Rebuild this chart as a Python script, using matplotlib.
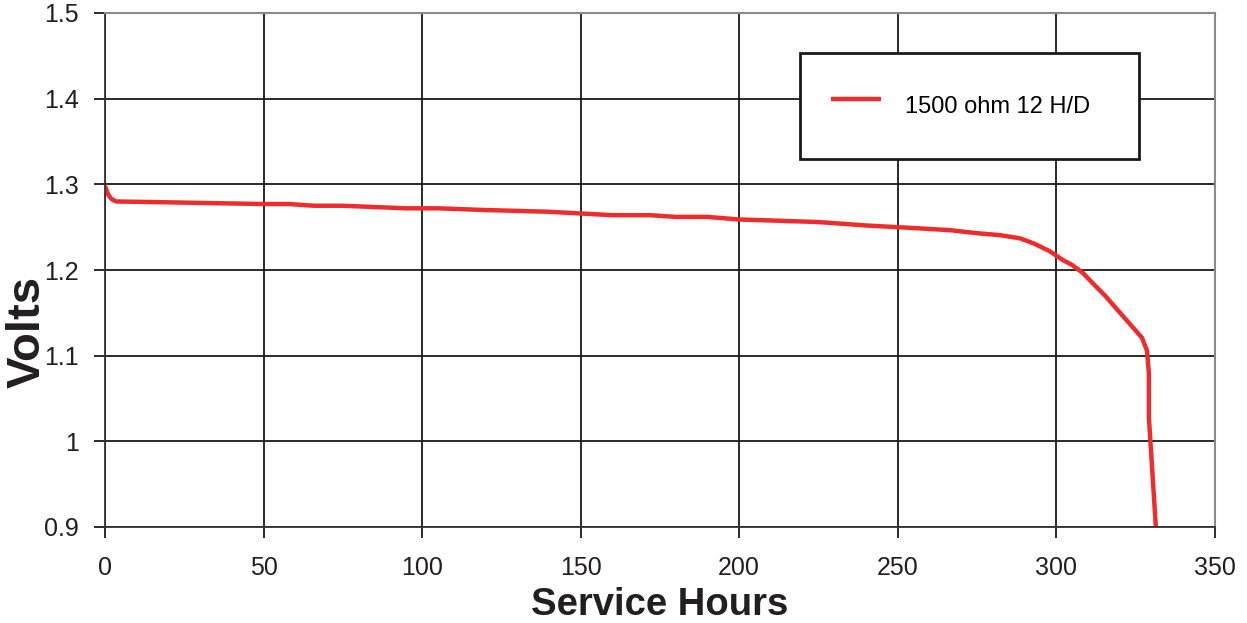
import numpy as np
import matplotlib.pyplot as plt

plt.rcParams['font.family'] = ['Liberation Sans', 'DejaVu Sans']

# Discharge curve
hours = [0, 1, 2, 3.5, 20, 50, 58, 66, 75, 95, 105, 120, 140, 160, 172, 180, 190, 200, 225, 240, 255, 266.6,
         275, 282.3, 288.6, 293, 298, 302, 305, 308.5, 312, 315.5, 319.5, 323.3, 327.1, 328.7, 329.3, 329.3, 331.5]
volts = [1.298, 1.288, 1.283, 1.280, 1.279, 1.277, 1.277, 1.275, 1.275, 1.272, 1.272, 1.270, 1.268, 1.264, 1.264,
         1.262, 1.262, 1.259, 1.256, 1.252, 1.249, 1.2465, 1.243, 1.2407, 1.237, 1.231, 1.222, 1.212, 1.206,
         1.1965, 1.183, 1.170, 1.153, 1.137, 1.121, 1.106, 1.080, 1.028, 0.9]

xticks = [0, 50, 100, 150, 200, 250, 300, 350]
yticks = [0.9, 1.0, 1.1, 1.2, 1.3, 1.4, 1.5]
ytick_labels = ['0.9', '1', '1.1', '1.2', '1.3', '1.4', '1.5']

W, H = 1247, 623
x0, x1, y0, y1 = 105, 1214.5, 13, 527
fig = plt.figure(figsize=(W/100, H/100), dpi=100)
ax = fig.add_axes([x0/W, 1-y1/H, (x1-x0)/W, (y1-y0)/H])

ax.plot(hours, volts, color='#ee2c2c', linewidth=3.2, label='1500 ohm 12 H/D', solid_capstyle='butt')

ax.set_xlim(0, 350)
ax.set_ylim(0.9, 1.5)
ax.set_xticks(xticks)
ax.set_yticks(yticks)
ax.set_yticklabels(ytick_labels)
ax.grid(True, color='#1a1a1a', linewidth=1.3)
ax.set_axisbelow(True)
ax.tick_params(direction='out', length=8, width=1.3, color='#1a1a1a', labelsize=18, labelcolor='#231f20')
ax.tick_params(axis='y', pad=11)
ax.tick_params(axis='x', pad=13)
for s in ['left', 'bottom']:
    ax.spines[s].set_color('#333333')
    ax.spines[s].set_linewidth(1.3)
for s in ['top', 'right']:
    ax.spines[s].set_color('#8a8a8a')
    ax.spines[s].set_linewidth(1.5)

ax.set_xlabel('Service Hours', fontsize=27.5, fontweight='bold', color='#231f20', labelpad=5)
ax.set_ylabel('Volts', fontsize=34, fontweight='bold', color='#231f20')
ax.yaxis.set_label_coords(-(x0-50)/(x1-x0), 1-(332-y0)/(y1-y0))

# legend box spans x 800..1139, y 53..160 in the reference
lx0 = (800-x0)/(x1-x0)
lw = (1139-800)/(x1-x0)
ltop = 1-(53-y0)/(y1-y0)
leg = ax.legend(loc='upper left', bbox_to_anchor=(lx0, ltop-0.3, lw, 0.3),
                mode='expand', fontsize=17, frameon=True, fancybox=False, handlelength=2.15, handletextpad=1.0,
                handleheight=2.55, borderpad=1.3, borderaxespad=0)
leg.get_frame().set_edgecolor('#1a1a1a')
leg.get_frame().set_linewidth(2)
leg.get_frame().set_alpha(1)

fig.savefig('out.png', dpi=100)
